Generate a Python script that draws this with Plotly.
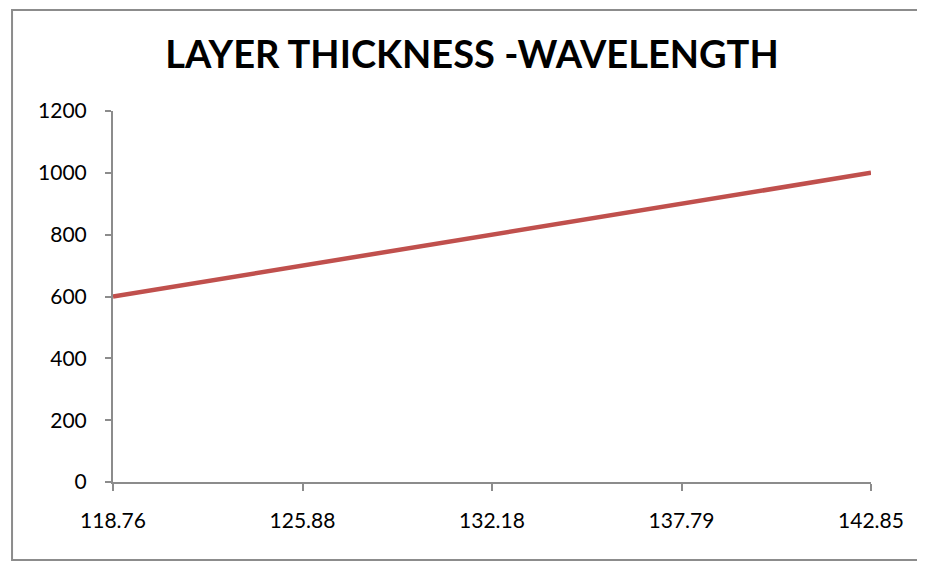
import plotly.graph_objects as go

wavelength = ['118.76', '125.88', '132.18', '137.79', '142.85']
thickness = [600, 700, 800, 900, 1000]
y_ticks = [0, 200, 400, 600, 800, 1000, 1200]

fig = go.Figure()
fig.add_trace(go.Scatter(x=list(range(len(wavelength))), y=thickness, mode='lines',
                         line=dict(color='#C0504D', width=4.5), showlegend=False))

fig.update_layout(
    width=917, height=554,
    margin=dict(l=105, r=54, t=103, b=80),
    plot_bgcolor='white', paper_bgcolor='white',
    font=dict(family='Lato, Carlito, Calibri, sans-serif', size=21, color='black'),
    title=dict(text='<b>LAYER THICKNESS -WAVELENGTH</b>', x=0.506, xanchor='center',
               y=0.915, yanchor='middle', font=dict(size=38)),
)
fig.update_xaxes(range=[0, 4], tickvals=list(range(len(wavelength))), ticktext=wavelength,
                 showgrid=False, zeroline=False, showline=True, linecolor='#8c8c8c', linewidth=2,
                 ticks='outside', ticklen=7, tickcolor='#8c8c8c', tickwidth=2,
                 ticklabelstandoff=12)
fig.update_yaxes(range=[0, 1200], tickvals=y_ticks,
                 showgrid=False, zeroline=False, showline=True, linecolor='#8c8c8c', linewidth=2,
                 ticks='outside', ticklen=6, tickcolor='#8c8c8c', tickwidth=2,
                 ticklabelstandoff=14)

# chart area border (right side falls outside the window)
fig.add_shape(type='path', xref='paper', yref='paper',
              path='M 1.2,1.272 L -0.1332,1.272 L -0.1332,-0.21 L 1.2,-0.21',
              line=dict(color='#8c8c8c', width=2))

fig.write_html("out.html")
